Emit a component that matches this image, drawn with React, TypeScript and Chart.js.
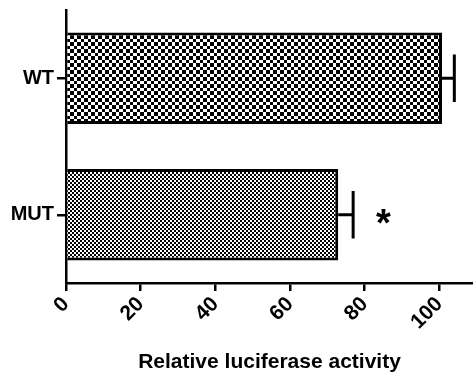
import React, { useEffect, useRef } from "react";
import { Chart, registerables } from "chart.js";

Chart.register(...registerables);

const categories = ["WT", "MUT"];
const values = [100.7, 72.9];
const errors = [3.3, 4.0];
const sigMarks = ["", "*"];
const sigPositions = [null, 85];
const xTickStep = 20;
const xMin = 0;
const xMax = 109;
const axisTitle = "Relative luciferase activity";

function makeChecker(cell: number, big: number) {
  const c = document.createElement("canvas");
  const size = cell + big;
  c.width = size;
  c.height = size;
  const ctx = c.getContext("2d")!;
  ctx.fillStyle = "#ffffff";
  ctx.fillRect(0, 0, size, size);
  ctx.fillStyle = "#000000";
  ctx.fillRect(0, 0, big, big);
  ctx.fillRect(big, big, cell, cell);
  return ctx.createPattern(c, "repeat")!;
}

const errorBarPlugin = {
  id: "errorBars",
  afterDatasetsDraw(chart: any) {
    const ctx = chart.ctx;
    const meta = chart.getDatasetMeta(0);
    const xs = chart.scales.x;
    ctx.save();
    ctx.strokeStyle = "#000";
    ctx.lineWidth = 3;
    meta.data.forEach((bar: any, i: number) => {
      const x0 = xs.getPixelForValue(values[i]);
      const x1 = xs.getPixelForValue(values[i] + errors[i]);
      const y = bar.y;
      const half = bar.height * 0.26;
      ctx.beginPath();
      ctx.moveTo(x0, y);
      ctx.lineTo(x1, y);
      ctx.moveTo(x1, y - half);
      ctx.lineTo(x1, y + half);
      ctx.stroke();
      const pos = sigPositions[i];
      if (sigMarks[i] && pos != null) {
        ctx.fillStyle = "#000";
        ctx.font = "bold 38px 'Liberation Sans', Arial, sans-serif";
        ctx.textAlign = "center";
        ctx.textBaseline = "middle";
        ctx.fillText(sigMarks[i], xs.getPixelForValue(pos), y + 11);
      }
    });
    ctx.restore();
  },
};

export default function App() {
  const ref = useRef<HTMLCanvasElement>(null);
  useEffect(() => {
    const canvas = ref.current!;
    const wt = makeChecker(3, 4);
    const mut = makeChecker(2, 2);
    const chart = new Chart(canvas, {
      type: "bar",
      data: {
        labels: categories,
        datasets: [
          {
            data: values,
            backgroundColor: [wt, mut],
            borderColor: "#000",
            borderWidth: 3,
            barPercentage: 0.67,
            categoryPercentage: 1,
          },
        ],
      },
      options: {
        indexAxis: "y",
        animation: false,
        responsive: false,
        maintainAspectRatio: false,
        layout: { padding: { top: 10, left: 0, right: 0, bottom: 0 } },
        plugins: { legend: { display: false }, tooltip: { enabled: false } },
        scales: {
          x: {
            type: "linear",
            min: xMin,
            max: xMax,
            afterBuildTicks(scale: any) {
              scale.ticks = scale.ticks.filter((t: any) => t.value % xTickStep === 0);
            },
            afterFit(scale: any) {
              scale.height = 90;
            },
            ticks: {
              stepSize: xTickStep,
              minRotation: 45,
              maxRotation: 45,
              color: "#000",
              padding: 1,
              font: { family: "'Liberation Sans', Arial, sans-serif", size: 21, weight: "bold" },
            },
            grid: {
              display: true,
              drawOnChartArea: false,
              drawTicks: true,
              tickLength: 8,
              color: "#000",
              lineWidth: 2.5,
            },
            border: { display: true, color: "#000", width: 2.5 },
            title: {
              display: true,
              text: axisTitle,
              color: "#000",
              padding: { top: 0, bottom: 0 },
              font: { family: "'Liberation Sans', Arial, sans-serif", size: 21, weight: "bold", lineHeight: 1 },
            },
          },
          y: {
            afterFit(scale: any) {
              scale.width = 66;
              scale.paddingTop = 0;
              scale.paddingBottom = 0;
            },
            ticks: {
              color: "#000",
              padding: 3,
              font: { family: "'Liberation Sans', Arial, sans-serif", size: 20, weight: "bold" },
            },
            grid: {
              display: true,
              offset: false,
              drawOnChartArea: false,
              drawTicks: true,
              tickLength: 9,
              color: "#000",
              lineWidth: 2.5,
            },
            border: { display: true, color: "#000", width: 2.5 },
          },
        },
      },
      plugins: [errorBarPlugin],
    });
    return () => chart.destroy();
  }, []);
  return (
    <div style={{ position: "fixed", left: 0, top: 0, width: 473, height: 373, background: "#fff" }}>
      <canvas ref={ref} width={473} height={373} style={{ display: "block" }} />
    </div>
  );
}
